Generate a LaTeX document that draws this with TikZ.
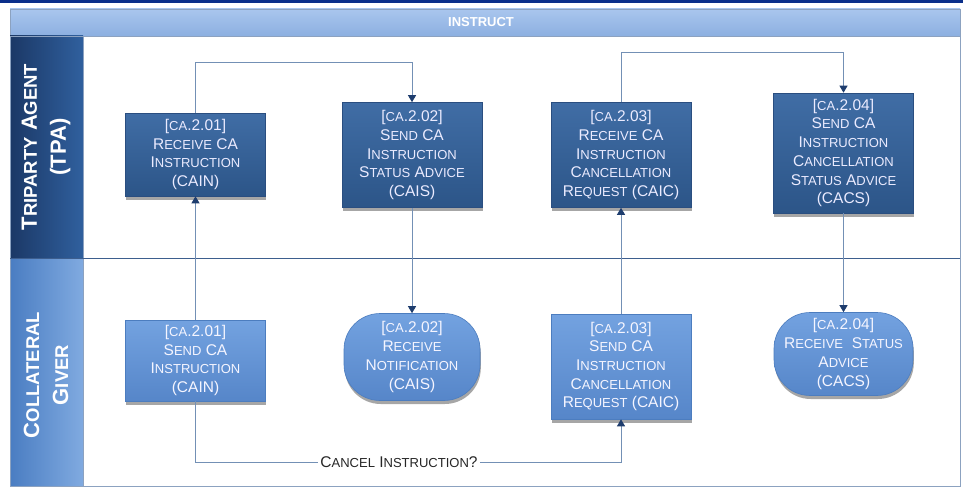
\documentclass[tikz,border=0pt]{standalone}
\usepackage{fontspec}
\setmainfont{Liberation Sans}
\usetikzlibrary{arrows.meta,shadows}

\definecolor{navy}{HTML}{0B2F8A}
\definecolor{hdrtop}{HTML}{A9C6EE}
\definecolor{hdrbot}{HTML}{8CAFE0}
\definecolor{tpaL}{HTML}{1B3866}
\definecolor{tpaR}{HTML}{30609E}
\definecolor{cgL}{HTML}{4A7DC2}
\definecolor{cgR}{HTML}{80AAE0}
\definecolor{darktop}{HTML}{406DA5}
\definecolor{darkbot}{HTML}{2C5588}
\definecolor{darkedge}{HTML}{2A4E80}
\definecolor{lighttop}{HTML}{73A2E0}
\definecolor{lightbot}{HTML}{5686C9}
\definecolor{lightedge}{HTML}{4C7DBF}
\definecolor{wire}{HTML}{7390B5}
\definecolor{tipcol}{HTML}{1E3D6E}
\definecolor{framecol}{HTML}{8CA2C0}
\definecolor{lanesep}{HTML}{3D5E8E}

% small caps imitation: lower-case letters set as smaller capitals
\makeatletter
\newcommand\lsc[1]{{\fontsize{\strip@pt\dimexpr0.84\dimexpr\f@size pt\relax\relax}{\f@baselineskip}\selectfont #1}}
\makeatother

\tikzset{
  boxbase/.style={minimum width=140pt, align=center, inner sep=2pt,
    font=\fontsize{15.5}{18.7}\selectfont, line width=0.6pt,
    drop shadow={shadow xshift=0.8pt, shadow yshift=-3.5pt, fill=black, opacity=0.35}},
  tpabox/.style={boxbase, top color=darktop, bottom color=darkbot, draw=darkedge,
    text=white!92!blue},
  cgbox/.style={boxbase, top color=lighttop, bottom color=lightbot, draw=lightedge,
    text=white!96!blue},
  cgterm/.style={cgbox, rounded corners=36pt},
  wireline/.style={draw=wire, line width=0.9pt},
  flow/.style={wireline, -{Triangle[length=7pt, width=8pt, color=tipcol]}},
  lanelabel/.style={text=white, align=center, font=\bfseries\fontsize{22}{29}\selectfont},
  decision/.style={fill=white, inner sep=2pt, text=black!85,
    font=\fontsize{15.5}{18}\selectfont}
}

\begin{document}
\begin{tikzpicture}[x=1pt, y=-1pt]
\useasboundingbox (0,0) rectangle (963,495);
\fill[white] (0,0) rectangle (963,495);

% top rule and pool header
\fill[navy] (0,0) rectangle (963,3.5);
\shade[top color=hdrtop, bottom color=hdrbot] (10,9) rectangle (960,36);
\draw[framecol, line width=0.8pt] (10,9) rectangle (960,36);
\node[text=white, font=\bfseries\fontsize{13}{15}\selectfont] (pool) at (481,22) {INSTRUCT};

% lane headers
\shade[left color=tpaL, right color=tpaR] (10,36) rectangle (83,258);
\shade[left color=cgL, right color=cgR] (10,258) rectangle (83,486);
\node[lanelabel, rotate=90] (laneA) at (46,147) {T\lsc{RIPARTY} A\lsc{GENT}\\(TPA)};
\node[lanelabel, rotate=90] (laneB) at (46,375) {C\lsc{OLLATERAL}\\G\lsc{IVER}};

% lane frame
\draw[framecol, line width=0.8pt] (10,36) rectangle (960,486);
\draw[framecol, line width=0.8pt] (83,36) -- (83,486);
\draw[lanesep, line width=0.8pt] (10,258) -- (960,258);

% tasks of the tri-party agent
\node[tpabox, minimum height=83pt] (t1) at (195.5,154.5)
  {[\lsc{CA}.2.01]\\R\lsc{ECEIVE} CA\\I\lsc{NSTRUCTION}\\(CAIN)};
\node[tpabox, minimum height=105pt] (t2) at (412,155)
  {[\lsc{CA}.2.02]\\S\lsc{END} CA\\I\lsc{NSTRUCTION}\\S\lsc{TATUS} A\lsc{DVICE}\\(CAIS)};
\node[tpabox, minimum height=105pt] (t3) at (621,155)
  {[\lsc{CA}.2.03]\\R\lsc{ECEIVE} CA\\I\lsc{NSTRUCTION}\\C\lsc{ANCELLATION}\\R\lsc{EQUEST} (CAIC)};
\node[tpabox, minimum height=120pt] (t4) at (843.5,153)
  {[\lsc{CA}.2.04]\\S\lsc{END} CA\\I\lsc{NSTRUCTION}\\C\lsc{ANCELLATION}\\S\lsc{TATUS} A\lsc{DVICE}\\(CACS)};

% tasks of the collateral giver
\node[cgbox, minimum height=81pt] (c1) at (195.5,360.5)
  {[\lsc{CA}.2.01]\\S\lsc{END} CA\\I\lsc{NSTRUCTION}\\(CAIN)};
\node[cgterm, minimum width=136pt, minimum height=87pt] (c2) at (412,357)
  {[\lsc{CA}.2.02]\\R\lsc{ECEIVE}\\N\lsc{OTIFICATION}\\(CAIS)};
\node[cgbox, minimum height=105pt] (c3) at (621,366.5)
  {[\lsc{CA}.2.03]\\S\lsc{END} CA\\I\lsc{NSTRUCTION}\\C\lsc{ANCELLATION}\\R\lsc{EQUEST} (CAIC)};
\node[cgterm, minimum width=139pt, minimum height=83pt] (c4) at (843.5,354)
  {[\lsc{CA}.2.04]\\R\lsc{ECEIVE}\ \ S\lsc{TATUS}\\A\lsc{DVICE}\\(CACS)};

% routing levels of the elbow connectors
\coordinate (hop1) at (0,62);
\coordinate (hop2) at (0,52);
\node[decision] (ask) at (399,462) {C\lsc{ANCEL} I\lsc{NSTRUCTION}?};

% message flow
\draw[flow] (c1.north) -- (c1.north |- t1.south);
\draw[flow] (t1.north) -- (t1.north |- hop1) -| (t2.north);
\draw[flow] (t2.south) -- (t2.south |- c2.north);
\draw[wireline] (c1.south) |- (ask.west);
\draw[flow] (ask.east) -| (c3.south);
\draw[flow] (c3.north) -- (c3.north |- t3.south);
\draw[flow] (t3.north) -- (t3.north |- hop2) -| (t4.north);
\draw[flow] (t4.south) -- (t4.south |- c4.north);
\end{tikzpicture}
\end{document}
